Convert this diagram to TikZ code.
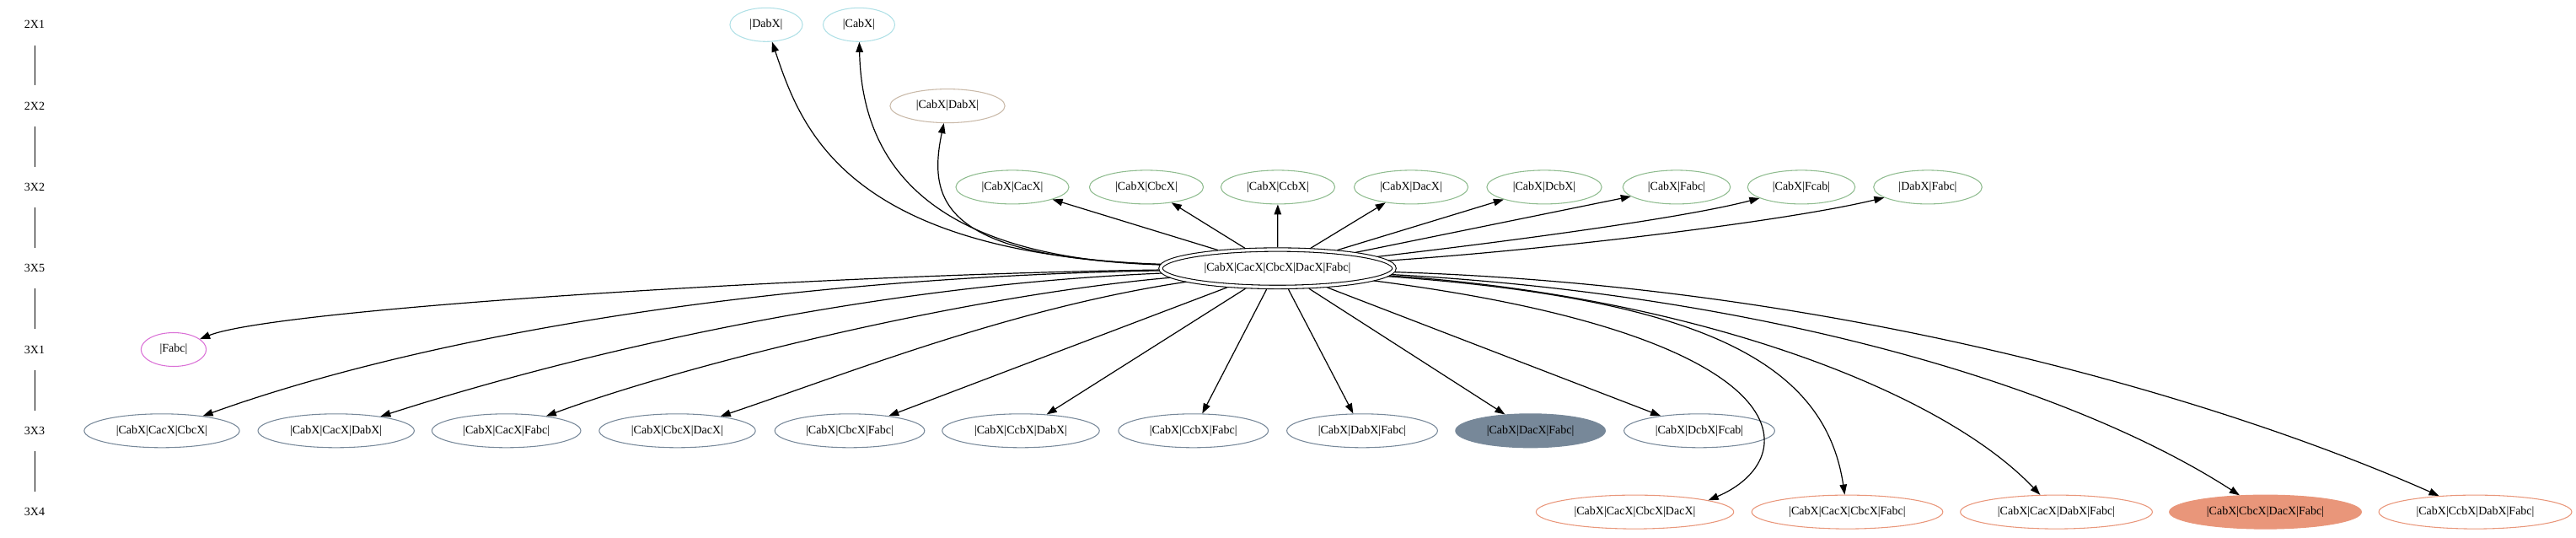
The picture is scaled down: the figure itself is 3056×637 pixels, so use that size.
\documentclass[tikz,border=0pt]{standalone}
\usepackage{fontspec}
\setmainfont{Liberation Serif}
\usetikzlibrary{shapes.geometric,arrows.meta}
\definecolor{cyanE}{HTML}{B0E0E6}
\definecolor{tanE}{HTML}{C9B9A8}
\definecolor{greenE}{HTML}{8FBC8F}
\definecolor{orchidE}{HTML}{DA70D6}
\definecolor{slateE}{HTML}{778899}
\definecolor{salmonE}{HTML}{E9967A}
\begin{document}
\begin{tikzpicture}[x=0.75pt,y=-0.75pt,
  gnode/.style={ellipse, draw, line width=0.8pt, inner xsep=8.2pt, inner ysep=1pt,
    minimum height=30pt, font=\fontsize{10.5}{12}\selectfont},
  rank1/.style={gnode, draw=cyanE},
  rank2/.style={gnode, draw=tanE},
  rank3/.style={gnode, draw=greenE},
  rankF/.style={gnode, draw=orchidE},
  rankS/.style={gnode, draw=slateE},
  rankSfill/.style={gnode, draw=slateE, fill=slateE},
  rankR/.style={gnode, draw=salmonE},
  rankRfill/.style={gnode, draw=salmonE, fill=salmonE},
  center/.style={ellipse, draw, line width=0.8pt, double, double distance=2.4pt,
    minimum width=207.8pt, minimum height=33.3pt, inner sep=0pt, outer sep=2.1pt,
    font=\fontsize{10.5}{12}\selectfont},
  ranklabel/.style={inner sep=0pt, minimum height=36pt, font=\fontsize{10.5}{12}\selectfont},
  rankline/.style={line width=0.75pt},
  edge/.style={-{Triangle[length=9pt,width=6.4pt]}, line width=0.9pt}
]
\useasboundingbox (0,0) rectangle (3056,637);

% rank labels
\node[ranklabel] (r1) at (41,29.3) {2X1};
\node[ranklabel] (r2) at (41,125.6) {2X2};
\node[ranklabel] (r3) at (41,221.9) {3X2};
\node[ranklabel] (r4) at (41,318.2) {3X5};
\node[ranklabel] (r5) at (41,414.5) {3X1};
\node[ranklabel] (r6) at (41,510.8) {3X3};
\node[ranklabel] (r7) at (41,607.1) {3X4};
\draw[rankline] (r1) -- (r2);
\draw[rankline] (r2) -- (r3);
\draw[rankline] (r3) -- (r4);
\draw[rankline] (r4) -- (r5);
\draw[rankline] (r5) -- (r6);
\draw[rankline] (r6) -- (r7);

% rank 2X1
\node[rank1] (a1) at (909,29.3) {|DabX|};
\node[rank1] (a2) at (1019,29.3) {|CabX|};
% rank 2X2
\node[rank2] (b1) at (1124,125.6) {|CabX|DabX|};
% rank 3X2
\node[rank3] (c1) at (1201,221.9) {|CabX|CacX|};
\node[rank3] (c2) at (1360,221.9) {|CabX|CbcX|};
\node[rank3] (c3) at (1516,221.9) {|CabX|CcbX|};
\node[rank3] (c4) at (1674,221.9) {|CabX|DacX|};
\node[rank3] (c5) at (1832,221.9) {|CabX|DcbX|};
\node[rank3] (c6) at (1989,221.9) {|CabX|Fabc|};
\node[rank3] (c7) at (2137,221.9) {|CabX|Fcab|};
\node[rank3] (c8) at (2287,221.9) {|DabX|Fabc|};
% rank 3X5
\node[center] (C) at (1515.5,318.2) {|CabX|CacX|CbcX|DacX|Fabc|};
% rank 3X1
\node[rankF] (f) at (206,414.5) {|Fabc|};
% rank 3X3
\node[rankS] (t1) at (192,510.8) {|CabX|CacX|CbcX|};
\node[rankS] (t2) at (398.7,510.8) {|CabX|CacX|DabX|};
\node[rankS] (t3) at (600.7,510.8) {|CabX|CacX|Fabc|};
\node[rankS] (t4) at (803.5,510.8) {|CabX|CbcX|DacX|};
\node[rankS] (t5) at (1008,510.8) {|CabX|CbcX|Fabc|};
\node[rankS] (t6) at (1211,510.8) {|CabX|CcbX|DabX|};
\node[rankS] (t7) at (1415.7,510.8) {|CabX|CcbX|Fabc|};
\node[rankS] (t8) at (1616,510.8) {|CabX|DabX|Fabc|};
\node[rankSfill] (t9) at (1815.6,510.8) {|CabX|DacX|Fabc|};
\node[rankS] (t10) at (2016,510.8) {|CabX|DcbX|Fcab|};
% rank 3X4
\node[rankR] (u1) at (1939.5,607.1) {|CabX|CacX|CbcX|DacX|};
\node[rankR] (u2) at (2191.5,607.1) {|CabX|CacX|CbcX|Fabc|};
\node[rankR] (u3) at (2439.5,607.1) {|CabX|CacX|DabX|Fabc|};
\node[rankRfill] (u4) at (2687.5,607.1) {|CabX|CbcX|DacX|Fabc|};
\node[rankR] (u5) at (2936.5,607.1) {|CabX|CcbX|DabX|Fabc|};

% edges upward
\draw[edge] (C) .. controls (1000,300) and (950,150) .. (a1);
\draw[edge] (C) .. controls (1080,305) and (1022,175) .. (a2);
\draw[edge] (C) .. controls (1120,305) and (1100,240) .. (b1);
\draw[edge] (C) -- (c1);
\draw[edge] (C) -- (c2);
\draw[edge] (C) -- (c3);
\draw[edge] (C) -- (c4);
\draw[edge] (C) -- (c5);
\draw[edge] (C) -- (c6);
\draw[edge] (C) .. controls (1800,285) and (2000,258) .. (c7);
\draw[edge] (C) .. controls (1850,295) and (2120,262) .. (c8);

% edges downward
\draw[edge] (C) .. controls (1000,325) and (330,365) .. (f);
\draw[edge] (C) .. controls (900,330) and (500,400) .. (t1);
\draw[edge] (C) .. controls (1000,340) and (650,430) .. (t2);
\draw[edge] (C) .. controls (1150,350) and (820,430) .. (t3);
\draw[edge] (C) .. controls (1200,365) and (1000,445) .. (t4);
\draw[edge] (C) -- (t5);
\draw[edge] (C) -- (t6);
\draw[edge] (C) -- (t7);
\draw[edge] (C) -- (t8);
\draw[edge] (C) -- (t9);
\draw[edge] (C) -- (t10);
\draw[edge] (C) .. controls (2150,400) and (2140,545) .. (u1.9);
\draw[edge] (C) .. controls (2020,355) and (2165,430) .. (u2);
\draw[edge] (C) .. controls (2000,350) and (2300,460) .. (u3);
\draw[edge] (C) .. controls (2100,350) and (2460,460) .. (u4);
\draw[edge] (C) .. controls (2200,340) and (2650,480) .. (u5);
\end{tikzpicture}
\end{document}
